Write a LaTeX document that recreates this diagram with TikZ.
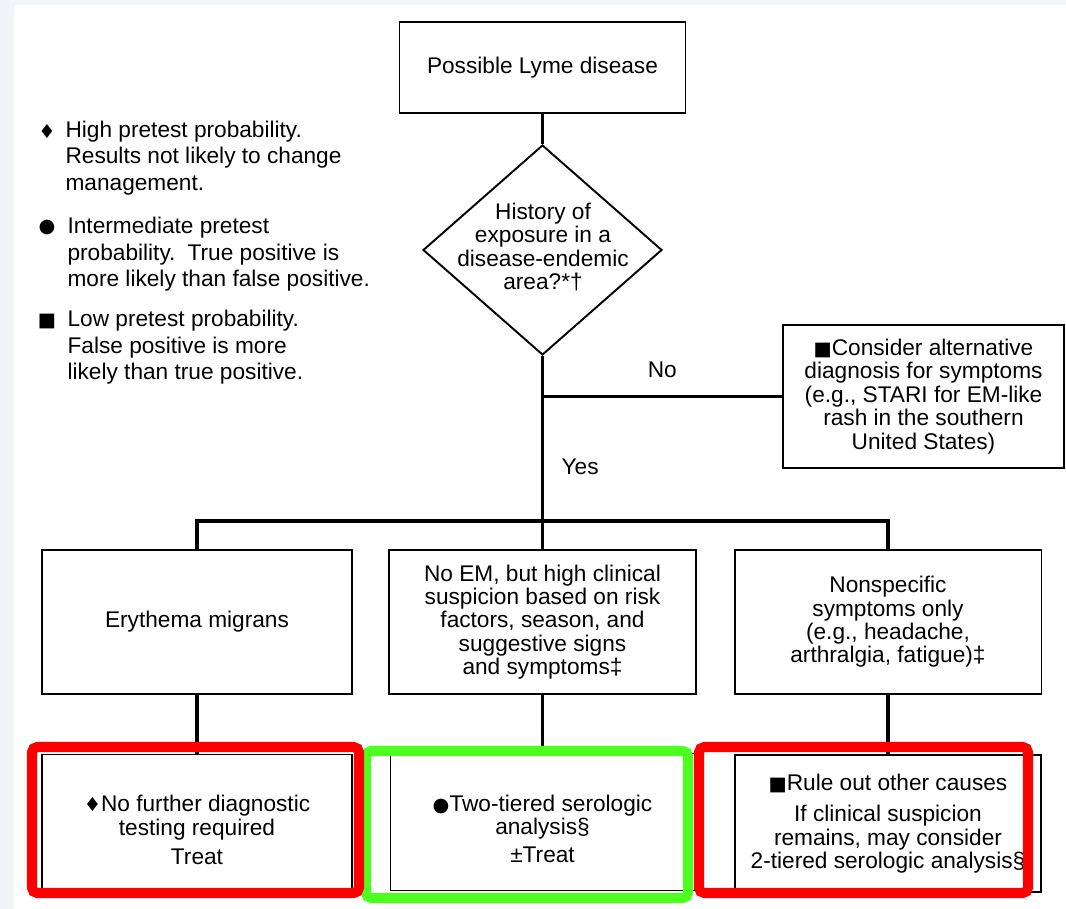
\documentclass[tikz,border=0pt]{standalone}
\usepackage{fontspec}
\setmainfont{Liberation Sans}
\newfontfamily\markfont[Scale=0.85]{DejaVu Sans}
\usetikzlibrary{shapes.geometric}

\definecolor{mark-red}{RGB}{255,0,0}
\definecolor{mark-green}{RGB}{76,255,30}
\definecolor{edge-grey}{RGB}{241,244,248}

\newcommand{\mk}[1]{{\markfont #1}}

\tikzset{
  box/.style={draw, line width=1.1pt, inner sep=0pt, align=center, minimum height=2.88cm},
  decision/.style={draw, diamond, line width=1.1pt, inner sep=0pt, minimum width=4.78cm, minimum height=4.2cm},
  legend/.style={align=left, inner sep=0pt, font=\fontsize{12.9}{15.1}\selectfont},
  branch/.style={inner sep=0pt},
  hilite/.style={draw, line width=5.7pt, rounded corners=3pt},
}

\begin{document}
\begin{tikzpicture}[x=0.02cm, y=-0.02cm, every path/.style={line width=1.8pt}, every node/.style={font=\fontsize{12.9}{13.3}\selectfont}]
    \fill [white] (0,0) rectangle (1066,909);
    \fill [edge-grey] (0,0) rectangle (14,909);
    \fill [edge-grey] (0,0) rectangle (1066,5);
    \useasboundingbox (0,0) rectangle (1066,909);

    % legend
    \node (hi-mark) [legend, at={(47,131)}] {\mk{♦}};
    \node (hi) [legend, anchor=west, at={(64,158)}] {High pretest probability.\\Results not likely to change\\management.};
    \node (mid-mark) [legend, at={(47,228)}] {\mk{●}};
    \node (mid) [legend, anchor=west, at={(66,254.5)}] {Intermediate pretest\\probability.\, True positive is\\more likely than false positive.};
    \node (low-mark) [legend, at={(47,321)}] {\mk{■}};
    \node (low) [legend, anchor=west, at={(66,347.5)}] {Low pretest probability.\\False positive is more\\likely than true positive.};

    % chart
    \node (lyme) [box, minimum width=5.72cm, minimum height=1.82cm, at={(542.5,67.5)}] {Possible Lyme disease};
    \node (expo) [decision, at={(542.5,250)}] {};
    \node (expo-text) [align=center, inner sep=0pt, at={(543,247)}] {History of\\exposure in a\\disease-endemic\\area?*†};
    \node (alt) [box, minimum width=5.62cm, minimum height=2.86cm, at={(923.5,396.5)}] {\mk{■}Consider alternative\\diagnosis for symptoms\\(e.g., STARI for EM-like\\rash in the southern\\United States)};
    \coordinate (split) at (542.5,521);

    \node (em) [box, minimum width=6.2cm, at={(197,622)}] {Erythema migrans};
    \node (noem) [box, minimum width=6.14cm, at={(542.5,622)}] {No EM, but high clinical\\suspicion based on risk\\factors, season, and\\suggestive signs\\and symptoms‡};
    \node (nonspec) [box, minimum width=6.14cm, at={(888,622)}] {Nonspecific\\symptoms only\\(e.g., headache,\\arthralgia, fatigue)‡};

    \node (treat) [box, minimum width=6.2cm, minimum height=2.68cm, at={(197,821.5)}] {\rule{0pt}{19pt}\mk{♦}No further diagnostic\\testing required\\[3.4pt]Treat};
    \node (sero) [box, minimum width=6.08cm, minimum height=2.74cm, at={(542.5,822)}] {\rule{0pt}{16.8pt}\mk{●}Two-tiered serologic\\analysis§\\[2.3pt]±Treat};
    \node (ruleout) [box, minimum width=6.12cm, minimum height=2.74cm, at={(888,823.5)}] {\mk{■}Rule out other causes\\[4.8pt]If clinical suspicion\\remains, may consider\\2-tiered serologic analysis§};

    \draw (lyme) -- (expo);
    \draw (expo) -- (split) node [branch, pos=0.67, anchor=west, xshift=10pt] {Yes};
    \draw (alt) -- (alt -| split) node [branch, midway, anchor=south, yshift=9.6pt] {No};
    \draw (em) |- (split) -| (nonspec);
    \draw (split) -- (noem);
    \draw (em) -- (treat);
    \draw (noem) -- (sero);
    \draw (nonspec) -- (ruleout);

    % highlights
    \draw [hilite, mark-green] (366,751) rectangle (688,898);
    \draw [hilite, mark-red] (32,747) rectangle (359,893);
    \draw [hilite, mark-red] (699,747) rectangle (1028,893);
\end{tikzpicture}
\end{document}
